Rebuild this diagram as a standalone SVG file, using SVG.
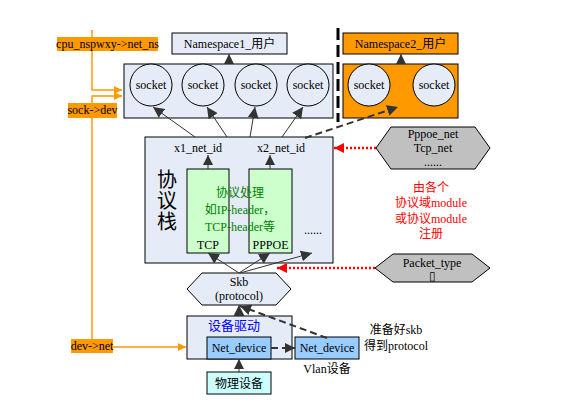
<svg xmlns="http://www.w3.org/2000/svg" width="561" height="415" viewBox="0 0 561 415">
<defs>
<style>
text{font-family:"Liberation Serif","Noto Sans CJK SC",serif;font-size:12px;fill:#000;text-anchor:middle}
.lb{fill:#e6ecf7;stroke:#000;stroke-width:1}
.or{fill:#ff9900;stroke:#000;stroke-width:1}
.gr{fill:#ccffcc;stroke:#000;stroke-width:1}
.nd{fill:#99ccff;stroke:#000;stroke-width:1}
.cy{fill:#ccffff;stroke:#000;stroke-width:1}
.hx{fill:#c0c0c0;stroke:#000;stroke-width:1}
.ol{stroke:#ff9900;stroke-width:1.5;fill:none}
.ar{stroke:#333;stroke-width:1;fill:none}
.da{stroke:#333;stroke-width:2;fill:none;stroke-dasharray:7 4}
.rd{stroke:#ff0000;stroke-width:2.5;fill:none;stroke-dasharray:2 2}
.tag{fill:#ff9900}
</style>
<marker id="ah" viewBox="0 0 10 10" refX="10" refY="5" markerWidth="10" markerHeight="10" markerUnits="userSpaceOnUse" orient="auto"><path d="M0,0L10,5L0,10z" fill="#333"/></marker>
<marker id="ahb" viewBox="0 0 10 10" refX="10" refY="5" markerWidth="11" markerHeight="11" markerUnits="userSpaceOnUse" orient="auto"><path d="M0,0L10,5L0,10z" fill="#333"/></marker>
<marker id="ao" viewBox="0 0 10 10" refX="10" refY="5" markerWidth="8" markerHeight="10" markerUnits="userSpaceOnUse" orient="auto"><path d="M0,0L10,5L0,10z" fill="#ff9900"/></marker>
<marker id="ar" viewBox="0 0 10 10" refX="10" refY="5" markerWidth="10" markerHeight="12" markerUnits="userSpaceOnUse" orient="auto"><path d="M0,0L10,5L0,10z" fill="#ff0000"/></marker>
</defs>

<g id="orange-links">
<path class="ol" d="M92,30V90H122" marker-end="url(#ao)"/>
<path class="ol" d="M92,347V96H122" marker-end="url(#ao)"/>
<path class="ol" d="M113,347H186" marker-end="url(#ao)"/>
</g>
<g id="tag-cpu"><rect class="tag" x="57" y="37" width="101" height="14"/><text x="107.5" y="48">cpu_nspwxy-&gt;net_ns</text></g>
<g id="tag-sock"><rect class="tag" x="68" y="103" width="49" height="15"/><text x="92.5" y="114">sock-&gt;dev</text></g>
<g id="tag-dev"><rect class="tag" x="71" y="339" width="42" height="14"/><text x="92" y="350">dev-&gt;net</text></g>

<g id="ns1"><rect class="lb" x="172" y="33" width="115" height="21"/><text x="229.5" y="48">Namespace1_用户</text></g>
<g id="sockets1">
<rect class="lb" x="124" y="64" width="209" height="54"/>
<circle class="lb" cx="151" cy="85" r="21"/><text x="151" y="89">socket</text>
<circle class="lb" cx="203" cy="85" r="21"/><text x="203" y="89">socket</text>
<circle class="lb" cx="256" cy="85" r="21"/><text x="256" y="89">socket</text>
<circle class="lb" cx="308" cy="85" r="21"/><text x="308" y="89">socket</text>
</g>
<g id="ns2"><rect class="or" x="343" y="33" width="115" height="21"/><text x="400.5" y="48">Namespace2_用户</text></g>
<g id="sockets2">
<rect class="or" x="343" y="64" width="115" height="54"/>
<circle class="lb" cx="369" cy="85" r="21"/><text x="369" y="89">socket</text>
<circle class="lb" cx="434" cy="85" r="21"/><text x="434" y="89">socket</text>
</g>
<g id="divider"><line x1="338" y1="28" x2="338" y2="122" stroke="#000" stroke-width="3" stroke-dasharray="12 5"/></g>

<g id="stack">
<rect class="lb" x="145" y="137" width="188" height="126"/>
<text x="198" y="152">x1_net_id</text>
<text x="281" y="152">x2_net_id</text>
<text x="167" y="187" style="font-size:20px">协</text>
<text x="167" y="208" style="font-size:20px">议</text>
<text x="167" y="229" style="font-size:20px">栈</text>
<rect class="gr" x="187" y="169" width="42" height="84"/>
<rect class="gr" x="249" y="169" width="43" height="84"/>
<text x="208" y="249">TCP</text>
<text x="270.5" y="249">PPPOE</text>
<text x="240" y="197" style="fill:#008000">协议处理</text>
<text x="240" y="214" style="fill:#008000">如IP-header，</text>
<text x="240" y="231" style="fill:#008000">TCP-header等</text>
<text x="313" y="234">......</text>
</g>

<g id="pppoe-net"><polygon class="hx" points="376,148 391,127 475,127 490,148 475,169 391,169"/>
<text x="433" y="138">Pppoe_net</text><text x="433" y="152">Tcp_net</text><text x="433" y="166">......</text></g>
<g id="note-reg">
<text x="431" y="192" style="fill:#ff0000">由各个</text>
<text x="431" y="207" style="fill:#ff0000">协议域module</text>
<text x="431" y="223" style="fill:#ff0000">或协议module</text>
<text x="431" y="238" style="fill:#ff0000">注册</text>
</g>
<g id="packet-type"><polygon class="hx" points="375,268 393,254 472,254 490,268 472,282 393,282"/>
<text x="432" y="267">Packet_type</text><text x="432" y="280">▯</text></g>

<g id="skb"><polygon class="lb" points="187,289 202,273 276,273 291,289 276,305 202,305"/>
<text x="239" y="286">Skb</text><text x="239" y="300">(protocol)</text></g>

<g id="driver">
<rect class="lb" x="187" y="316" width="105" height="43"/>
<text x="234" y="330" style="fill:#0000ff;font-size:13px">设备驱动</text>
<rect class="nd" x="207" y="337" width="64" height="22"/><text x="239" y="352">Net_device</text>
</g>
<g id="phys"><rect class="cy" x="207" y="372" width="64" height="22"/><text x="239" y="388">物理设备</text></g>
<g id="vlan"><rect class="nd" x="295" y="337" width="64" height="22"/><text x="327" y="352">Net_device</text><text x="327" y="373">Vlan设备</text></g>
<g id="note-skb"><text x="396" y="334">准备好skb</text><text x="396" y="350">得到protocol</text></g>

<g id="connectors">
<line class="ar" x1="229" y1="64" x2="229" y2="54" marker-end="url(#ah)"/>
<line class="ar" x1="401" y1="64" x2="401" y2="54" marker-end="url(#ah)"/>
<line class="ar" x1="195" y1="137" x2="153" y2="107" marker-end="url(#ahb)"/>
<line class="ar" x1="227" y1="137" x2="207" y2="107" marker-end="url(#ahb)"/>
<line class="ar" x1="250" y1="137" x2="255" y2="107" marker-end="url(#ahb)"/>
<line class="ar" x1="282" y1="137" x2="303" y2="107" marker-end="url(#ahb)"/>
<line class="da" x1="305" y1="138" x2="398" y2="107" marker-end="url(#ahb)"/>
<line class="ar" x1="208" y1="169" x2="208" y2="155" marker-end="url(#ah)"/>
<line class="ar" x1="270" y1="169" x2="270" y2="155" marker-end="url(#ah)"/>
<line class="ar" x1="239" y1="273" x2="208" y2="253" marker-end="url(#ahb)"/>
<line class="ar" x1="239" y1="273" x2="270" y2="253" marker-end="url(#ahb)"/>
<line class="ar" x1="240" y1="273" x2="312" y2="253" marker-end="url(#ahb)"/>
<line class="rd" x1="376" y1="148" x2="334" y2="148" marker-end="url(#ar)"/>
<line class="rd" x1="375" y1="268" x2="277" y2="268" marker-end="url(#ar)"/>
<line class="ar" x1="239" y1="316" x2="239" y2="305" marker-end="url(#ahb)"/>
<line class="ar" x1="239" y1="372" x2="239" y2="359" marker-end="url(#ah)"/>
<line class="da" x1="271" y1="348" x2="295" y2="348" marker-end="url(#ah)"/>
<line class="da" x1="327" y1="338" x2="240" y2="306" marker-end="url(#ahb)"/>
</g>
</svg>
